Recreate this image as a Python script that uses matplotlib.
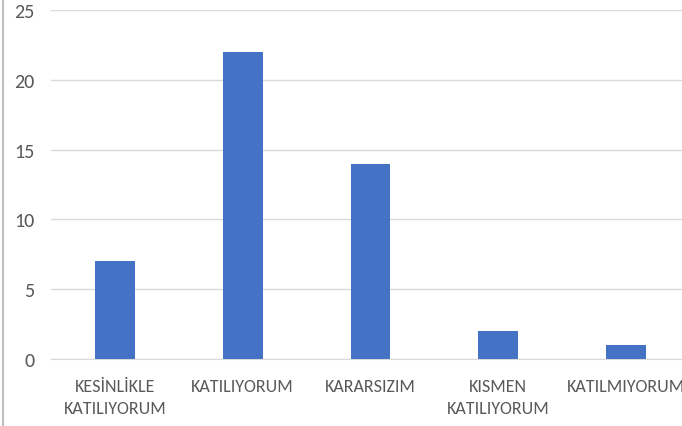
import matplotlib
matplotlib.use("Agg")
import matplotlib.pyplot as plt
from matplotlib.lines import Line2D
from matplotlib import font_manager

categories = ["KESİNLİKLE\nKATILIYORUM", "KATILIYORUM", "KARARSIZIM", "KISMEN\nKATILIYORUM", "KATILMIYORUM"]
values = [7, 22, 14, 2, 1]
yticks = [0, 5, 10, 15, 20, 25]

names = {f.name for f in font_manager.fontManager.ttflist}
# (family, x-label size, y-label size, linespacing)
choices = [
    ('Carlito', 13.0, 14.5, 1.45),
    ('Liberation Sans Narrow', 13.0, 13.0, 1.5),
    ('Liberation Sans', 10.7, 12.0, 1.8),
]
fam, xs, ys, ls = 'DejaVu Sans', 10.0, 11.0, 1.8
for c in choices:
    if c[0] in names:
        fam, xs, ys, ls = c
        break
plt.rcParams['font.family'] = [fam, 'DejaVu Sans']

fig = plt.figure(figsize=(6.82, 4.27), dpi=100)
ax = fig.add_axes([51/682, 67/427, 639/682, 349/427])
x = list(range(len(categories)))
ax.bar(x, values, width=0.31, color='#4472C4', zorder=3)
ax.set_xlim(-0.5, 4.5)
ax.set_ylim(0, 25)
ax.set_yticks(yticks)
ax.set_xticks(x)
ax.set_xticklabels(categories, fontsize=xs, color='#595959', linespacing=ls)
ax.tick_params(axis='y', labelsize=ys, labelcolor='#595959', length=0, pad=12)
ax.tick_params(axis='x', length=0, pad=14)
ax.grid(axis='y', color='#d9d9d9', linewidth=1, zorder=0)
for s in ['top', 'right', 'left']:
    ax.spines[s].set_visible(False)
ax.spines['bottom'].set_color('#d9d9d9')
fig.add_artist(Line2D([3/682, 3/682], [0, 1], transform=fig.transFigure, color='#bfbfbf', linewidth=1.5))
fig.savefig('out.png', dpi=100)
